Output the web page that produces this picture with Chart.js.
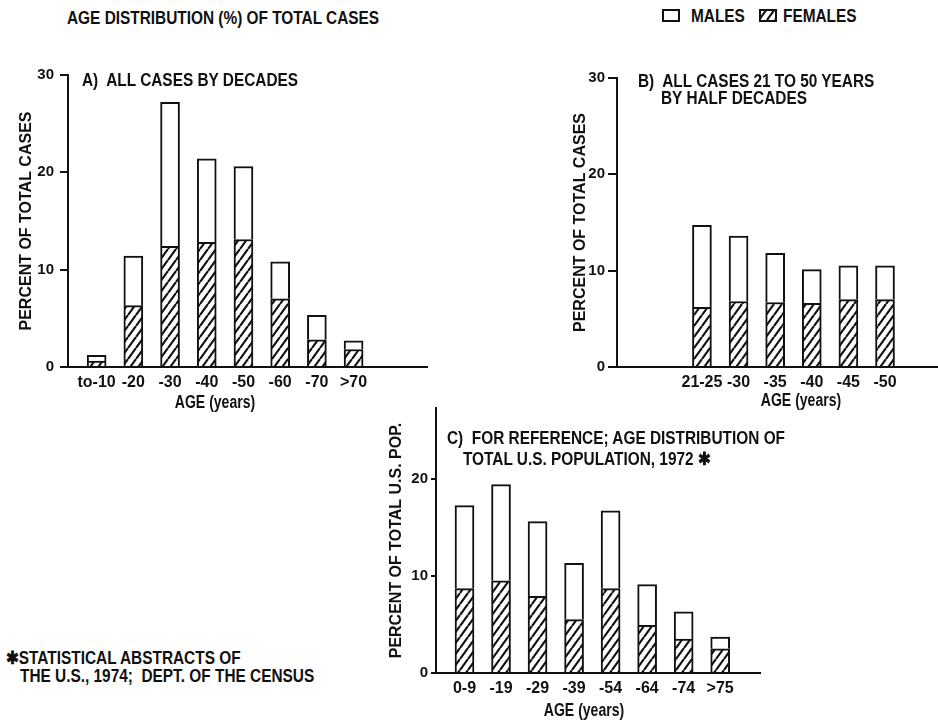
<!DOCTYPE html>
<html>
<head>
<meta charset="utf-8">
<script src="https://cdn.jsdelivr.net/npm/chart.js@4.4.1/dist/chart.umd.min.js"></script>
<style>
  html, body { margin: 0; padding: 0; background: #fff; }
  #page { position: relative; width: 938px; height: 720px; overflow: hidden; background: #fff; }
  #page canvas { position: absolute; }
  .t {
    position: absolute;
    font-family: 'Liberation Sans', Arial, sans-serif;
    font-weight: bold; font-size: 18px; line-height: 20px;
    color: #111; white-space: nowrap;
    transform: scaleX(0.855); transform-origin: 0 50%;
  }
  .c { transform: translateX(-50%) scaleX(0.78); transform-origin: 50% 50%; }
</style>
</head>
<body>
<div id="page">
  <div class="t" style="left:67px; top:8px;">AGE DISTRIBUTION (%) OF TOTAL CASES</div>

  <canvas id="keyM" width="18" height="13" style="left:662px; top:9px;"></canvas>
  <div class="t" style="left:691px; top:6px;">MALES</div>
  <canvas id="keyF" width="18" height="13" style="left:759px; top:9px;"></canvas>
  <div class="t" style="left:783px; top:6px;">FEMALES</div>

  <canvas id="chartA" width="440" height="360" style="left:0px; top:40px;"></canvas>
  <canvas id="chartB" width="468" height="360" style="left:470px; top:40px;"></canvas>
  <canvas id="chartC" width="440" height="325" style="left:340px; top:395px;"></canvas>

  <div class="t" style="left:82px; top:70px;">A)&nbsp; ALL CASES BY DECADES</div>
  <div class="t" style="left:638px; top:71px;">B)&nbsp; ALL CASES 21 TO 50 YEARS</div>
  <div class="t" style="left:661px; top:88px;">BY HALF DECADES</div>
  <div class="t" style="left:447px; top:428px;">C)&nbsp; FOR REFERENCE; AGE DISTRIBUTION OF</div>
  <div class="t" style="left:463px; top:449px;">TOTAL U.S. POPULATION, 1972 ✱</div>

  <div class="t c" style="left:215px; top:392px;">AGE (years)</div>
  <div class="t c" style="left:801px; top:390px;">AGE (years)</div>
  <div class="t c" style="left:584px; top:700px;">AGE (years)</div>

  <div class="t" style="left:6px; top:648px;">✱STATISTICAL ABSTRACTS OF</div>
  <div class="t" style="left:20px; top:666px;">THE U.S., 1974;&nbsp; DEPT. OF THE CENSUS</div>
</div>

<script>
// Panel A: all cases by decades (percent of total cases)
const agesA    = ['to-10', '-20', '-30', '-40', '-50', '-60', '-70', '>70'];
const femalesA = [0.6, 6.3, 12.4, 12.8, 13.1, 7.0, 2.8, 1.8];
const malesA   = [0.6, 5.1, 14.8, 8.6, 7.5, 3.8, 2.5, 0.9];

// Panel B: cases aged 21 to 50 by half decades
const agesB    = ['21-25', '-30', '-35', '-40', '-45', '-50'];
const femalesB = [6.2, 6.8, 6.7, 6.6, 7.0, 7.0];
const malesB   = [8.5, 6.8, 5.1, 3.5, 3.5, 3.5];

// Panel C: age distribution of the total U.S. population, 1972
const agesC    = ['0-9', '-19', '-29', '-39', '-54', '-64', '-74', '>75'];
const femalesC = [8.7, 9.5, 7.9, 5.5, 8.7, 4.9, 3.5, 2.5];
const malesC   = [8.55, 9.9, 7.7, 5.8, 8.0, 4.2, 2.8, 1.2];

// Value-axis ticks shared by all panels
const yTicks = [0, 10, 20, 30];

const INK = '#111';
const FAMILY = "'Liberation Sans', Arial, sans-serif";
const Y_TICK_FONT = { family: FAMILY, size: 15, weight: 'bold' };
const X_TICK_FONT = { family: FAMILY, size: 16, weight: 'bold' };

// Diagonal hatching used for the female share of each bar
function makeHatch() {
  const tile = document.createElement('canvas');
  const w = 8, h = 11;
  tile.width = w; tile.height = h;
  const g = tile.getContext('2d');
  g.fillStyle = '#fff';
  g.fillRect(0, 0, w, h);
  g.strokeStyle = INK;
  g.lineWidth = 2.2;
  g.beginPath();
  for (const dx of [-w, 0, w]) { g.moveTo(dx, h); g.lineTo(dx + w, 0); }
  g.stroke();
  return g.createPattern(tile, 'repeat');
}
const HATCH = makeHatch();

// Key swatches
function swatch(id, fill) {
  const g = document.getElementById(id).getContext('2d');
  g.fillStyle = fill;
  g.fillRect(0, 0, 18, 13);
  g.strokeStyle = INK;
  g.lineWidth = 2;
  g.strokeRect(1, 1, 16, 11);
}
swatch('keyM', '#fff');
swatch('keyF', HATCH);

function panel(id, ages, females, males, o) {
  const points = arr => arr.map((v, i) => ({ x: i, y: v }));
  return new Chart(document.getElementById(id), {
    type: 'bar',
    data: {
      datasets: [
        { label: 'FEMALES', data: points(females), backgroundColor: HATCH,
          borderColor: INK, borderWidth: 2, barThickness: 19 },
        { label: 'MALES', data: points(males), backgroundColor: '#fff',
          borderColor: INK, borderWidth: 2, barThickness: 19 }
      ]
    },
    options: {
      responsive: false,
      animation: false,
      devicePixelRatio: 1,
      layout: { padding: { left: o.padL, top: o.padT, right: o.padR, bottom: 0 } },
      plugins: { legend: { display: false }, tooltip: { enabled: false } },
      scales: {
        x: {
          type: 'linear', stacked: true, offset: false, min: o.xMin, max: o.xMax,
          afterBuildTicks: s => { s.ticks = ages.map((_, i) => ({ value: i })); },
          afterFit: s => { s.height = o.xH; },
          ticks: { autoSkip: false, maxRotation: 0, padding: 6, color: INK, font: X_TICK_FONT,
                   callback: (v, i) => ages[i] },
          grid: { display: true, offset: false, drawOnChartArea: false, drawTicks: false },
          border: { display: true, color: INK, width: 2 }
        },
        y: {
          stacked: true, min: 0, max: o.yMax,
          afterBuildTicks: s => { s.ticks = yTicks.filter(v => v <= o.yMax).map(v => ({ value: v })); },
          afterFit: s => { s.width = o.yW; },
          ticks: { padding: o.tickPad, color: INK, font: Y_TICK_FONT },
          grid: { display: true, drawOnChartArea: false, drawTicks: true,
                  tickLength: o.tickLen, color: INK, lineWidth: 2 },
          border: { display: true, color: INK, width: 2 },
          title: { display: true, text: o.yTitle, color: INK,
                   font: { family: FAMILY, size: o.titleSize, weight: 'bold', lineHeight: 1.2 },
                   padding: { top: o.titlePad, bottom: 0 } }
        }
      }
    }
  });
}

panel('chartA', agesA, femalesA, malesA, {
  padL: 0, padT: 35, padR: 13, yW: 68, xH: 33,
  xMin: -0.78, xMax: 9.0, yMax: 30, tickPad: 6, tickLen: 8,
  titleSize: 16, titlePad: 17, yTitle: 'PERCENT OF TOTAL CASES'
});

panel('chartB', agesB, femalesB, malesB, {
  padL: 90, padT: 38, padR: 1, yW: 57, xH: 33,
  xMin: -2.32, xMax: 6.42, yMax: 30, tickPad: 3, tickLen: 9,
  titleSize: 16, titlePad: 11, yTitle: 'PERCENT OF TOTAL CASES'
});

panel('chartC', agesC, femalesC, malesC, {
  padL: 40, padT: 13, padR: 20, yW: 56, xH: 47,
  xMin: -0.78, xMax: 8.09, yMax: 27.3, tickPad: 3, tickLen: 5,
  titleSize: 16, titlePad: 7, yTitle: 'PERCENT OF TOTAL U.S. POP.'
});
</script>
</body>
</html>
